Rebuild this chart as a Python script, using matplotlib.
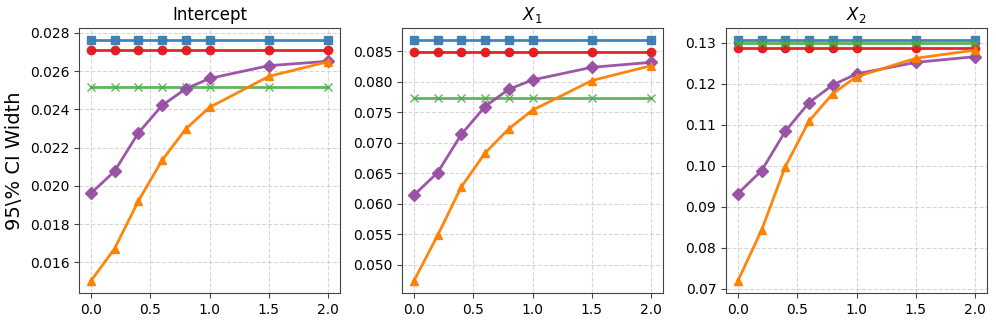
import numpy as np
import matplotlib.pyplot as plt

# noise levels on x axis
x = [0.0, 0.2, 0.4, 0.6, 0.8, 1.0, 1.5, 2.0]
titles = ['Intercept', '$X_1$', '$X_2$']

# constant-width methods (one value per panel)
blue_vals = [0.02763, 0.0868, 0.13065]
red_vals = [0.02712, 0.0848, 0.12863]
green_vals = [0.02519, 0.07733, 0.1300]

# methods that change with x
purple_int = [0.01961, 0.02077, 0.02277, 0.02421, 0.02508, 0.02562, 0.02629, 0.02652]
orange_int = [0.01503, 0.01672, 0.01921, 0.02134, 0.02298, 0.02411, 0.02573, 0.02650]
purple_x1 = [0.06138, 0.06508, 0.07134, 0.07591, 0.07874, 0.08026, 0.08233, 0.08315]
orange_x1 = [0.04733, 0.05479, 0.06274, 0.06829, 0.07226, 0.07531, 0.08016, 0.08260]
purple_x2 = [0.0932, 0.0988, 0.1084, 0.1154, 0.1197, 0.1224, 0.1252, 0.1266]
orange_x2 = [0.0719, 0.0843, 0.0998, 0.1109, 0.1176, 0.1217, 0.1262, 0.1282]

purples = [purple_int, purple_x1, purple_x2]
oranges = [orange_int, orange_x1, orange_x2]

c_blue = '#377eb8'
c_red = '#e41a1c'
c_green = '#4daf4a'
c_purple = '#984ea3'
c_orange = '#ff7f00'

fig = plt.figure(figsize=(9.96, 3.24), dpi=100)
lefts = [79, 402, 726]
W, H = 996., 324.
axes = []
for i in range(3):
    ax = fig.add_axes([lefts[i]/W, (H-293)/H, 261/W, 265/H])
    axes.append(ax)
    n = len(x)
    ax.plot(x, [blue_vals[i]]*n, color=c_blue, marker='s', lw=2, ms=6, alpha=0.95)
    ax.plot(x, [red_vals[i]]*n, color=c_red, marker='o', lw=2, ms=6, alpha=0.95)
    ax.plot(x, [green_vals[i]]*n, color=c_green, marker='x', lw=2, ms=6, alpha=0.9)
    ax.plot(x, purples[i], color=c_purple, marker='D', lw=2, ms=6, alpha=0.95)
    ax.plot(x, oranges[i], color=c_orange, marker='^', lw=2, ms=6, alpha=0.95)
    ax.set_title(titles[i], fontsize=12)
    ax.grid(True, linestyle='--', alpha=0.5)
    ax.tick_params(labelsize=10, color='#444444')
    for s in ax.spines.values():
        s.set_color('#444444')
    ax.set_xticks([0.0, 0.5, 1.0, 1.5, 2.0])

axes[0].set_ylabel('95\\% CI Width', fontsize=14)
axes[0].set_yticks([0.016, 0.018, 0.020, 0.022, 0.024, 0.026, 0.028])
axes[1].set_yticks([0.050, 0.055, 0.060, 0.065, 0.070, 0.075, 0.080, 0.085])
axes[1].yaxis.set_major_formatter(plt.FormatStrFormatter('%.3f'))
axes[2].yaxis.set_major_formatter(plt.FormatStrFormatter('%.2f'))

plt.savefig('out.png', dpi=100)
